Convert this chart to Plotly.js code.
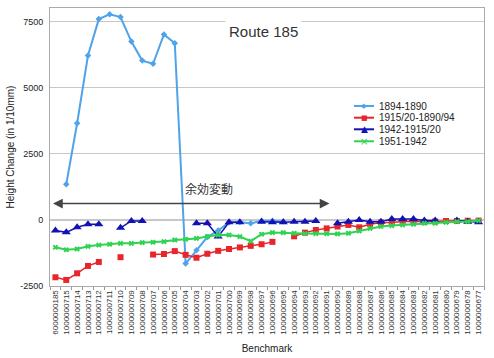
<!DOCTYPE html>
<html>
<head>
<meta charset="utf-8">
<script src="https://cdn.plot.ly/plotly-3.0.1.min.js"></script>
<style>html,body{margin:0;padding:0;background:#fff;}#chart{width:494px;height:358px;}</style>
</head>
<body>
<div id="chart"></div>
<script>
var categories = ["6000000185","1000000715","1000000714","1000000713","1000000712","1000000711","1000000710","1000000709","1000000708","1000000707","1000000706","1000000705","1000000704","1000000703","1000000702","1000000701","1000000700","1000000699","1000000698","1000000697","1000000696","1000000695","1000000694","1000000693","1000000692","1000000691","1000000690","1000000689","1000000688","1000000687","1000000686","1000000685","1000000684","1000000683","1000000682","1000000681","1000000680","1000000679","1000000678","1000000677"];

var s1894_1890 = [null,1350,3660,6220,7600,7780,7680,6750,6030,5910,7020,6690,-1650,-1150,-650,-400,-100,-80,-130,-30,-30,-60,null,null,null,null,null,null,null,null,null,null,null,null,null,null,null,null,null,null];

var s1915_1890 = [-2170,-2270,-2020,-1740,-1590,null,-1410,null,null,-1310,-1290,-1180,-1320,-1430,-1280,-1170,-1100,-1040,-980,-920,-830,null,-620,-480,-380,-320,-250,-190,-280,-160,-100,-100,-60,-60,-80,-60,-40,-40,-30,-25];

var s1942_1915 = [-400,-470,-280,-165,-165,null,-300,-40,-40,null,null,null,null,-125,-125,-630,-90,-90,null,-65,-90,-90,-65,-65,-40,null,-125,-65,0,-65,-65,40,40,40,-25,-25,null,-25,-65,-90];

var s1951_1942 = [-1035,-1130,-1100,-1000,-950,-920,-885,-885,-860,-845,-820,-760,-730,-700,-630,-570,-570,-630,-800,-540,-480,-480,-505,-515,-520,-520,-530,-505,-420,-320,-250,-215,-190,-165,-125,-125,-90,-65,-65,-25];

var seriesNames = ["1894-1890","1915/20-1890/94","1942-1915/20","1951-1942"];
var yTicks = [-2500,0,2500,5000,7500];

var cLight = "#4fa3ea", cRed = "#e8252a", cBlue = "#1212b4", cGreen = "#2fd352";

var traces = [
  {x:categories, y:s1894_1890, name:seriesNames[0], mode:"lines+markers", connectgaps:false,
   line:{color:cLight,width:2}, marker:{symbol:"diamond",size:5,color:cLight}},
  {x:categories, y:s1915_1890, name:seriesNames[1], mode:"lines+markers", connectgaps:false,
   line:{color:cRed,width:1.5}, marker:{symbol:"square",size:6,color:cRed}},
  {x:categories, y:s1942_1915, name:seriesNames[2], mode:"lines+markers", connectgaps:false,
   line:{color:cBlue,width:1.5}, marker:{symbol:"triangle-up",size:8,color:cBlue}},
  {x:categories, y:s1951_1942, name:seriesNames[3], mode:"lines+markers", connectgaps:false,
   line:{color:cGreen,width:2}, marker:{symbol:"x",size:5,color:cGreen}}
];

// layout helpers (pixel -> paper)
var L=50, R=484, T=8, B=286;
function px(x){return (x-L)/(R-L);}
function py(y){return (B-y)/(B-T);}

var legRows = [106,117.7,129.3,141.3];
var legColors = [cLight,cRed,cBlue,cGreen];
var legGlyphs = ["\u25C6","\u25A0","\u25B2","\u00D7"];
var legGlyphSize = [7,7,9,10];
var shapes = [], annotations = [];
for (var i=0;i<4;i++){
  shapes.push({type:"line",xref:"paper",yref:"paper",x0:px(354),x1:px(374),y0:py(legRows[i]),y1:py(legRows[i]),
    line:{color:legColors[i],width:2}});
  annotations.push({xref:"paper",yref:"paper",x:px(364),y:py(legRows[i]),text:legGlyphs[i],showarrow:false,
    xanchor:"center",yanchor:"middle",font:{family:"DejaVu Sans",size:legGlyphSize[i],color:legColors[i]}});
  annotations.push({xref:"paper",yref:"paper",x:px(377),y:py(legRows[i]),text:seriesNames[i],showarrow:false,
    xanchor:"left",yanchor:"middle",font:{family:"Liberation Sans",size:10,color:"#222"}});
}
annotations.push({xref:"paper",yref:"paper",x:px(263),y:py(31),text:"Route 185",showarrow:false,
  xanchor:"center",yanchor:"middle",bgcolor:"#ffffff",borderpad:3,
  font:{family:"Liberation Sans",size:15,color:"#333"}});
annotations.push({xref:"paper",yref:"paper",x:px(209),y:py(188),text:"余効変動",showarrow:false,
  xanchor:"center",yanchor:"middle",font:{family:"Noto Sans CJK JP",size:12,color:"#333"}});
annotations.push({xref:"paper",yref:"paper",x:px(53),y:py(203.5),ax:278,ay:0,text:"",showarrow:true,
  arrowside:"end+start",arrowhead:2,arrowsize:1.3,arrowwidth:1.5,arrowcolor:"#444"});

var layout = {
  width:494, height:358,
  margin:{l:L,r:494-R,t:T,b:358-B},
  paper_bgcolor:"#fff", plot_bgcolor:"#fff",
  showlegend:false,
  font:{family:"Liberation Sans",color:"#222"},
  xaxis:{type:"category",range:[-0.5,39.5],tickangle:-90,tickfont:{size:8,color:"#333"},
    ticks:"outside",ticklen:3,tickcolor:"#999",tickson:"boundaries",showgrid:false,
    showline:true,linecolor:"#aaa",linewidth:1,mirror:true,
    title:{text:"Benchmark",font:{size:10,color:"#222"},standoff:11}},
  yaxis:{range:[-2500,8020],tickvals:yTicks,ticktext:yTicks.map(String),tickfont:{size:9,color:"#222"},
    gridcolor:"#c8c8c8",gridwidth:1,zeroline:true,zerolinecolor:"#c8c8c8",zerolinewidth:2,
    showline:true,linecolor:"#aaa",linewidth:1,mirror:true,ticks:"",ticklabelstandoff:4,
    title:{text:"Height Change (in 1/10mm)",font:{size:10,color:"#222"},standoff:3}},
  shapes:shapes,
  annotations:annotations
};

Plotly.newPlot("chart", traces, layout, {displayModeBar:false,staticPlot:true});
</script>
</body>
</html>
